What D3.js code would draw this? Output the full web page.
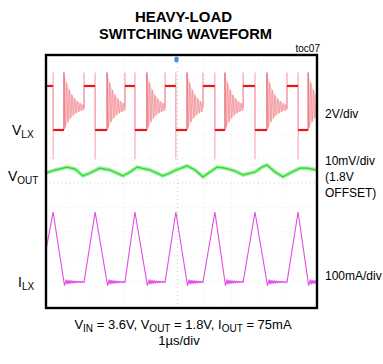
<!DOCTYPE html>
<html><head><meta charset="utf-8">
<script src="https://cdn.jsdelivr.net/npm/d3@7"></script>
<style>body{margin:0;background:#fff}svg{display:block}text{font-family:"Liberation Sans",Arial,sans-serif;fill:#000}</style>
</head><body><svg id="c" width="383" height="364"></svg>
<script>
// ---- data (time in µs, 1 µs/div) ----
const fallUs = [0.41, 1.96, 3.43, 4.94, 6.38, 7.86, 9.45];   // VLX high->low, ILX peak
const ringUs = [0.81, 2.40, 3.87, 5.35, 6.75, 8.30, 9.82];   // end of low-side conduction, DCM ringing starts
const riseUs = [1.55, 3.06, 4.54, 5.94, 7.42, 9.04];         // VLX ring->high
const vlxLevels = [0, 3.6];            // V (low, high)
const vlxRingCenter = 1.8;             // V
const vlxRingAmp = 2.4;                // V, first swing of ringing
const vlxRingPeriodUs = 0.1;
const vlxRingDecayUs = 0.3;
const vlxSpikeHigh = 4.7, vlxSpikeLow = -2.4;
const ilxPeakMa = [287, 287, 287, 287, 287, 287, 287];
const ilxStartMa = 131;
const ilxDipMa = -15;
const voutT  = [0.15,0.48,0.92,1.22,1.51,1.77,2.14,2.51,2.99,3.25,3.51,3.99,4.46,4.72,4.94,5.35,5.65,5.94,6.20,6.46,6.75,7.12,7.42,7.86,8.12,8.30,8.60,8.89,9.23,9.52,9.78,10.15];
const voutMv = [-0.4,0.8,2.0,1.2,-1.6,-0.4,1.6,0.8,-1.6,0,2.0,0.8,-1.6,-0.4,0.8,2.5,0.8,-2.0,0,2.0,1.6,0.4,-1.2,0,2.0,2.9,0,-2.0,0,1.6,1.6,0.8];
const title = ["HEAVY-LOAD", "SWITCHING WAVEFORM"];
const rightLabels = ["2V/div", "10mV/div", "(1.8V", "OFFSET)", "100mA/div"];

const svg = d3.select('#c');
const box = {l:46, t:55, r:317, b:308};
const x  = d3.scaleLinear().domain([0,10]).range([42,313]);
const yV = d3.scaleLinear().domain([0,3.6]).range([130,86]);
const yO = d3.scaleLinear().domain([0,10]).range([172,147.6]);
const yI = d3.scaleLinear().domain([0,100]).range([282,257.6]);
const tEnd = x.invert(box.r + 2);

svg.append('clipPath').attr('id','clip').append('rect')
  .attr('x',box.l).attr('y',box.t).attr('width',box.r-box.l).attr('height',box.b-box.t);

// grid
const g = svg.append('g').attr('clip-path','url(#clip)');
const gx = d3.range(1,10);
g.selectAll('.gv').data(gx).join('line')
  .attr('x1',d=>x(d)).attr('x2',d=>x(d)).attr('y1',box.t).attr('y2',box.b)
  .attr('stroke',d=>d===5?'#cfcfcf':'#ececec').attr('stroke-width',1).attr('stroke-dasharray','1,3');
const gyDiv = 24.4, gyC = 183;
const gy = d3.range(-5,6).map(k=>gyC+k*gyDiv).filter(v=>v>box.t&&v<box.b);
g.selectAll('.gh').data(gy).join('line')
  .attr('x1',box.l).attr('x2',box.r).attr('y1',d=>d).attr('y2',d=>d)
  .attr('stroke',d=>Math.abs(d-gyC)<1?'#cfcfcf':'#ececec').attr('stroke-width',1).attr('stroke-dasharray','1,3');

// ---- VLX ----
function ringPts(t0, t1, center, amp, extra, per, tau){
  const pts=[]; const n=Math.max(2,Math.round((t1-t0)/0.004));
  for(let k=0;k<=n;k++){const t=(t1-t0)*k/n; const e=Math.exp(-t/tau);
    pts.push([t0+t, center + extra*e + amp*e*Math.cos(2*Math.PI*t/per)]);}
  return pts;
}
const lineV = d3.line().x(d=>x(d[0])).y(d=>yV(d[1]));
// ringing envelopes (light fill)
const areaV = d3.area().x(d=>x(d[0])).y0(d=>yV(d[1])).y1(d=>yV(d[2]));
fallUs.forEach((f,i)=>{
  const t0=ringUs[i], t1=i<riseUs.length?riseUs[i]:tEnd;
  const env=d3.range(0,41).map(k=>{const t=(t1-t0)*k/40; const e=Math.exp(-t/vlxRingDecayUs);
    return [t0+t, vlxRingCenter+0.5*e+vlxRingAmp*e, vlxRingCenter+0.5*e-vlxRingAmp*e];});
  g.append('path').attr('d',areaV(env)).attr('fill','#fbd3d5');
});
let vlx=[[0,vlxLevels[1]]];
fallUs.forEach((f,i)=>{
  vlx.push([f,vlxLevels[1]],[f,vlxLevels[0]],[ringUs[i],vlxLevels[0]]);
  const tr = i<riseUs.length?riseUs[i]:tEnd;
  vlx = vlx.concat(ringPts(ringUs[i], tr, vlxRingCenter, vlxRingAmp, 0.5, vlxRingPeriodUs, vlxRingDecayUs));
  if(i<riseUs.length) vlx.push([riseUs[i],vlxLevels[1]]);
});
g.append('path').attr('d',lineV(vlx)).attr('fill','none').attr('stroke','#f08890').attr('stroke-width',0.7);
// spikes
g.selectAll('.sf').data(fallUs).join('line').attr('x1',d=>x(d)).attr('x2',d=>x(d))
  .attr('y1',yV(vlxSpikeHigh)).attr('y2',yV(vlxSpikeLow)).attr('stroke','#f3a0a6').attr('stroke-width',1);
g.selectAll('.sr').data(riseUs).join('line').attr('x1',d=>x(d)).attr('x2',d=>x(d))
  .attr('y1',yV(vlxRingCenter)).attr('y2',yV(vlxSpikeHigh)).attr('stroke','#f09097').attr('stroke-width',1);
g.selectAll('.sr2').data(ringUs).join('line').attr('x1',d=>x(d)).attr('x2',d=>x(d))
  .attr('y1',yV(vlxLevels[0])).attr('y2',yV(vlxSpikeHigh)).attr('stroke','#e86a72').attr('stroke-width',1);
// flats
const highSegs = fallUs.map((f,i)=>[i===0?0:riseUs[i-1], f]);
const lowSegs  = fallUs.map((f,i)=>[f, ringUs[i]]);
g.selectAll('.hs').data(highSegs).join('line').attr('x1',d=>x(d[0])).attr('x2',d=>x(d[1]))
  .attr('y1',yV(vlxLevels[1])).attr('y2',yV(vlxLevels[1])).attr('stroke','#e8141e').attr('stroke-width',2.2);
g.selectAll('.ls').data(lowSegs).join('line').attr('x1',d=>x(d[0])).attr('x2',d=>x(d[1]))
  .attr('y1',yV(vlxLevels[0])).attr('y2',yV(vlxLevels[0])).attr('stroke','#e8141e').attr('stroke-width',2.2);

// ---- VOUT ----
const vo = voutT.map((t,i)=>[t,voutMv[i]]);
const lineO = d3.line().x(d=>x(d[0])).y(d=>yO(d[1]));
g.append('path').attr('d',lineO(vo)).attr('fill','none').attr('stroke','#9cf09c').attr('stroke-width',3.8);
g.append('path').attr('d',lineO(vo)).attr('fill','none').attr('stroke','#30d830').attr('stroke-width',1.2);

// ---- ILX ----
let il=[[x.invert(box.l),ilxStartMa]];
fallUs.forEach((f,i)=>{
  il.push([f,ilxPeakMa[i]],[ringUs[i]+0.02,ilxDipMa]);
  const tr = i<riseUs.length?riseUs[i]:tEnd;
  il = il.concat(ringPts(ringUs[i]+0.08, tr, 0, 8, 0, 0.07, 0.35));
});
const lineI = d3.line().x(d=>x(d[0])).y(d=>yI(d[1]));
g.append('path').attr('d',lineI(il)).attr('fill','none').attr('stroke','#e04ce6').attr('stroke-width',1.1);

// frame
svg.append('rect').attr('x',box.l).attr('y',box.t).attr('width',box.r-box.l).attr('height',box.b-box.t)
  .attr('fill','none').attr('stroke','#000').attr('stroke-width',2.4);
// trigger marker
svg.append('ellipse').attr('cx',x(5)-1).attr('cy',59.5).attr('rx',2.2).attr('ry',3).attr('fill','#4a8fd8');

// ---- text ----
svg.append('text').attr('x',183.5).attr('y',22).attr('text-anchor','middle').attr('font-weight','bold')
  .attr('font-size',15).attr('textLength',97).attr('lengthAdjust','spacingAndGlyphs').text(title[0]);
svg.append('text').attr('x',185.5).attr('y',39).attr('text-anchor','middle').attr('font-weight','bold')
  .attr('font-size',15).attr('textLength',173).attr('lengthAdjust','spacingAndGlyphs').text(title[1]);
svg.append('text').attr('x',320).attr('y',52).attr('text-anchor','end').attr('font-size',10).text('toc07');

function sublabel(xp, yp, main, sub, fs, ss){
  const t=svg.append('text').attr('x',xp).attr('y',yp).attr('font-size',fs);
  t.append('tspan').text(main);
  t.append('tspan').attr('font-size',ss).attr('dy',3).text(sub);
  return t;
}
sublabel(12,135,'V','LX',14,10);
sublabel(8,181,'V','OUT',14,10);
sublabel(18,287,'I','LX',14,10);

const rl=[[118,0],[165,1],[181,2],[197,3],[280,4]];
rl.forEach(([yy,i])=>svg.append('text').attr('x',325).attr('y',yy).attr('font-size',12).text(rightLabels[i]));

const b1=svg.append('text').attr('x',183).attr('y',329).attr('text-anchor','middle').attr('font-size',13);
[['V',0],['IN',1],[' = 3.6V, V',0],['OUT',1],[' = 1.8V, I',0],['OUT',1],[' = 75mA',0]].forEach(([s,sub],i)=>{
  const ts=b1.append('tspan').text(s);
  if(sub){ts.attr('font-size',10).attr('dy',3);} else if(i>0){ts.attr('dy',-3);}
});
svg.append('text').attr('x',179).attr('y',345).attr('text-anchor','middle').attr('font-size',13).text('1µs/div');
</script></body></html>
